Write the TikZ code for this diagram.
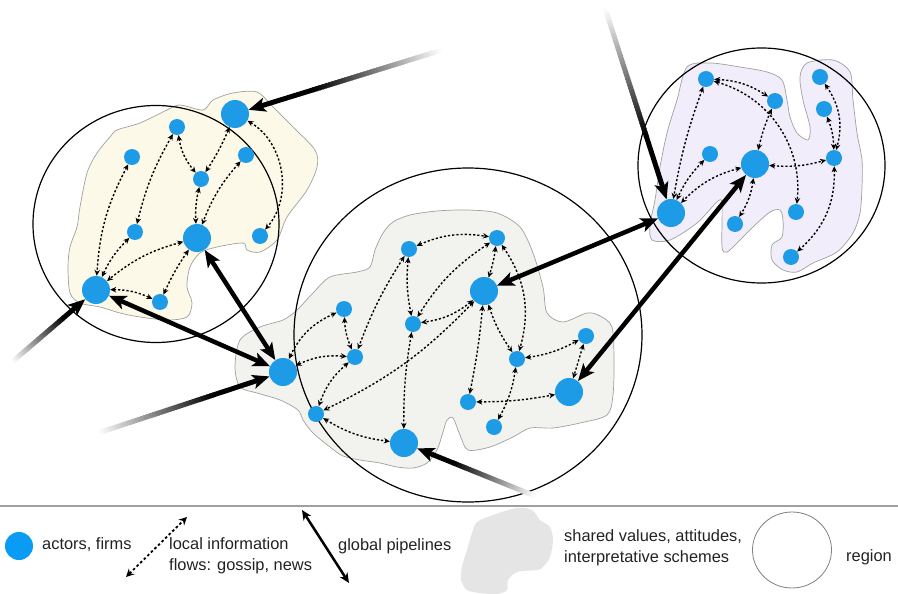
\documentclass[tikz,border=0pt]{standalone}
\usepackage{fontspec}
\setmainfont{Liberation Sans}
\usetikzlibrary{arrows.meta,calc}
\definecolor{actorblue}{HTML}{1E9BE6}
\definecolor{legblue}{HTML}{0A9BF5}
\definecolor{yellowfill}{HTML}{FCF9E8}
\definecolor{grayfill}{HTML}{F2F2EF}
\definecolor{lavfill}{HTML}{F1EDFB}
\definecolor{legfill}{HTML}{E5E5E5}
\definecolor{blobline}{HTML}{A0A0A0}
\definecolor{textcol}{HTML}{222222}
\newcommand\fadearrow[2]{%
  \foreach \i in {0,...,39}{%
    \pgfmathtruncatemacro\pp{(\i+0.5)*2.5}
    \draw[line width=5pt, black!\pp] ($(#1)!{\i/40*0.62}!(#2)$) -- ($(#1)!{(\i+1.3)/40*0.62}!(#2)$);
  }
  \draw[extarrow] ($(#1)!0.62!(#2)$) -- (#2);
}
\begin{document}
\begin{tikzpicture}[x=1pt,y=1pt,
  actor/.style={circle,fill=actorblue,inner sep=0pt,minimum size=16pt},
  bigactor/.style={actor,minimum size=28pt},
  flow/.style={line width=1.4pt, dash pattern=on 2.2pt off 2pt, <->, >={Stealth[length=6pt,width=5.5pt]}},
  pipe/.style={line width=4.5pt, <->, >={Stealth[length=17pt,width=14pt,inset=4pt]}},
  extarrow/.style={line width=5pt, black, ->, >={Stealth[length=17pt,width=14pt,inset=4pt]}},
  region/.style={draw=black, line width=1.2pt},
  blob/.style={draw=blobline, line width=0.7pt},
  legtext/.style={anchor=base west, inner sep=0pt, text=textcol, font=\fontsize{16.4}{21}\selectfont},
]
\useasboundingbox (0,0) rectangle (898,-594);

% blobs
\draw[blob, fill=yellowfill] plot[smooth cycle, tension=0.5] coordinates {
(110,-137) (117,-130) (140,-123) (167,-110) (180,-105) (203,-110) (213,-100) (233,-93) (257,-92) (273,-107) (293,-127) (315,-150) (317,-167) (307,-190) (287,-217) (277,-240) (260,-252) (247,-250) (243,-243) (217,-247) (200,-253) (190,-267) (187,-287) (192,-303) (187,-317) (167,-320) (140,-317) (120,-313) (100,-307) (80,-303) (70,-293) (68,-267) (70,-247) (77,-227) (80,-207) (87,-173) (97,-153)};
\draw[blob, fill=grayfill] plot[smooth cycle, tension=0.5] coordinates {
(383,-233) (393,-222) (410,-215) (437,-211) (467,-210) (497,-213) (520,-227) (533,-253) (543,-287) (547,-313) (563,-322) (587,-313) (600,-316) (612,-327) (614,-360) (613,-395) (607,-415) (580,-423) (553,-428) (530,-428) (513,-437) (490,-447) (468,-450) (460,-435) (453,-418) (447,-420) (443,-432) (437,-450) (427,-463) (413,-468) (397,-467) (380,-463) (360,-460) (343,-456) (330,-447) (313,-433) (303,-420) (298,-410) (280,-400) (257,-393) (240,-387) (235,-367) (240,-340) (260,-327) (283,-320) (297,-310) (313,-293) (330,-277) (357,-272) (370,-267) (375,-250)};
\draw[blob, fill=lavfill] plot[smooth cycle, tension=0.5] coordinates {
(687,-67) (710,-63) (740,-67) (767,-72) (782,-80) (787,-100) (790,-117) (797,-133) (808,-140) (810,-127) (803,-100) (800,-77) (807,-63) (833,-60) (850,-72) (853,-100) (857,-133) (862,-160) (862,-187) (860,-213) (853,-233) (837,-252) (813,-263) (797,-272) (783,-270) (772,-260) (772,-245) (782,-237) (783,-220) (780,-210) (770,-212) (753,-227) (737,-243) (727,-252) (722,-247) (722,-205) (718,-201) (697,-223) (670,-240) (652,-240) (650,-225) (655,-200) (660,-167) (667,-133) (677,-100)};

% regions
\draw[region] (156,-224) ellipse[x radius=123, y radius=118.5];
\draw[region] (468,-335) ellipse[x radius=174, y radius=167];
\draw[region] (761.5,-165.5) ellipse[x radius=123.5, y radius=117.5];

% actors: left
\node[bigactor] (L1) at (235,-114) {};
\node[actor] (L2) at (177,-127) {};
\node[actor] (L3) at (132,-157) {};
\node[actor] (L4) at (246,-155) {};
\node[actor] (L5) at (201,-179) {};
\node[actor] (L6) at (135,-232) {};
\node[bigactor] (L7) at (197,-238) {};
\node[actor] (L8) at (260,-236) {};
\node[bigactor] (L9) at (96,-290) {};
\node[actor] (L10) at (160,-302) {};
% middle
\node[actor] (M1) at (409,-249) {};
\node[actor] (M2) at (497,-238) {};
\node[bigactor] (M3) at (484,-291) {};
\node[actor] (M4) at (344,-309) {};
\node[actor] (M5) at (413,-324) {};
\node[bigactor] (M6) at (283,-372) {};
\node[actor] (M7) at (355,-357) {};
\node[actor] (M8) at (517,-359) {};
\node[actor] (M9) at (586,-336) {};
\node[bigactor] (M10) at (569,-392) {};
\node[actor] (M11) at (468,-402) {};
\node[actor] (M12) at (316,-414) {};
\node[actor] (M13) at (494,-427) {};
\node[bigactor] (M14) at (404,-443) {};
% right
\node[actor] (R1) at (706,-79) {};
\node[actor] (R2) at (775,-101) {};
\node[actor] (R3) at (820,-77) {};
\node[actor] (R4) at (824,-109) {};
\node[actor] (R5) at (710,-154) {};
\node[bigactor] (R6) at (755,-164) {};
\node[actor] (R7) at (834,-158) {};
\node[bigactor] (R8) at (671,-213) {};
\node[actor] (R9) at (735,-224) {};
\node[actor] (R10) at (796,-212) {};
\node[actor] (R11) at (791,-257) {};

% local flows: left
\draw[flow] (L3) to[bend right=12] (L9);
\draw[flow] (L2) to[bend right=8] (L6);
\draw[flow] (L2) to[bend right=15] (L5);
\draw[flow] (L1) to[bend left=5] (L5);
\draw[flow] (L1) to[bend left=50] (L8);
\draw[flow] (L4) to[bend right=10] (L7);
\draw[flow] (L5) to[bend right=8] (L7);
\draw[flow] (L6) to[bend right=10] (L9);
\draw[flow] (L7) to[bend right=12] (L9);
\draw[flow] (L7) to[bend right=5] (L10);
\draw[flow] (L9) to[bend left=12] (L10);
% middle
\draw[flow] (M1) to[bend left=16] (M2);
\draw[flow] (M1) to[bend right=8] (M5);
\draw[flow] (M1) to[bend right=6] (M7);
\draw[flow] (M2) to[bend right=12] (M5);
\draw[flow] (M2) to[bend left=5] (M3);
\draw[flow] (M2) to[bend left=25] (M8);
\draw[flow] (M3) to[bend left=15] (M5);
\draw[flow] (M3) to[bend left=10] (M12);
\draw[flow] (M3) to[bend left=3] (M11);
\draw[flow] (M3) to[bend right=8] (M8);
\draw[flow] (M4) to[bend right=20] (M6);
\draw[flow] (M4) to[bend right=10] (M7);
\draw[flow] (M6) to[bend left=15] (M7);
\draw[flow] (M7) to[bend right=15] (M12);
\draw[flow] (M5) to[bend right=5] (M14);
\draw[flow] (M8) to[bend right=10] (M9);
\draw[flow] (M8) to[bend left=10] (M13);
\draw[flow] (M9) -- (M10);
\draw[flow] (M11) to[bend right=5] (M10);
\draw[flow] (M12) to[bend right=12] (M14);
% right
\draw[flow] (R1) to[bend left=15] (R2);
\draw[flow] (R1) to[bend left=40] (R10);
\draw[flow] (R1) to[bend right=5] (R8);
\draw[flow] (R2) to[bend right=5] (R6);
\draw[flow] (R3) to[bend left=25] (R7);
\draw[flow] (R4) to[bend left=10] (R7);
\draw[flow] (R5) to[bend right=10] (R8);
\draw[flow] (R6) to[bend right=15] (R8);
\draw[flow] (R6) to[bend right=10] (R7);
\draw[flow] (R6) to[bend left=12] (R9);
\draw[flow] (R7) to[bend left=25] (R11);

% global pipelines
\draw[pipe] (L9) -- (M6);
\draw[pipe] (L7) -- (M6);
\draw[pipe] (M3) -- (R8);
\draw[pipe] (M10) -- (R6);

% external links
\coordinate (E1) at (442,-50);
\coordinate (E2) at (12,-362);
\coordinate (E3) at (98,-433);
\coordinate (E4) at (535,-496);
\coordinate (E5) at (605,-8);
\fadearrow{E1}{L1}
\fadearrow{E2}{L9}
\fadearrow{E3}{M6}
\fadearrow{E4}{M14}
\fadearrow{E5}{R8}

% legend
\coordinate (sepA) at (0,-506);
\coordinate (sepB) at (898,-506);
\draw[blobline, line width=1.2pt] (sepA) -- (sepB);
\node[circle, fill=legblue, inner sep=0pt, minimum size=28pt] (lgact) at (19,-546) {};
\node[legtext] (t1) at (42,-549) {actors, firms};
\coordinate (lf1) at (126,-577);
\coordinate (lf2) at (187,-517);
\draw[line width=1.8pt, dash pattern=on 2.6pt off 2.4pt, <->, >={Stealth[length=8pt,width=8pt]}] (lf1) -- (lf2);
\node[legtext] (t2) at (169,-549) {local information};
\node[legtext] (t3) at (169,-570) {flows: gossip, news};
\coordinate (lp1) at (302,-510);
\coordinate (lp2) at (349,-583);
\draw[line width=2.5pt, <->, >={Stealth[length=10pt,width=9pt]}] (lp1) -- (lp2);
\node[legtext] (t4) at (338,-550) {global pipelines};
\fill[legfill] plot[smooth cycle, tension=0.5] coordinates {
(477,-522) (493,-515) (517,-508) (532,-510) (540,-520) (550,-527) (553,-540) (550,-557) (543,-567) (537,-570) (517,-572) (508,-580) (507,-590) (497,-594) (480,-593) (467,-590) (461,-580) (462,-567) (467,-550) (472,-533)};
\node[legtext] (t5) at (564,-541) {shared values, attitudes,};
\node[legtext] (t6) at (564,-562) {interpretative schemes};
\draw[draw=gray, line width=0.8pt] (792,-550) ellipse[x radius=39.5, y radius=38];
\node[legtext] (t7) at (846,-561) {region};
\end{tikzpicture}
\end{document}
